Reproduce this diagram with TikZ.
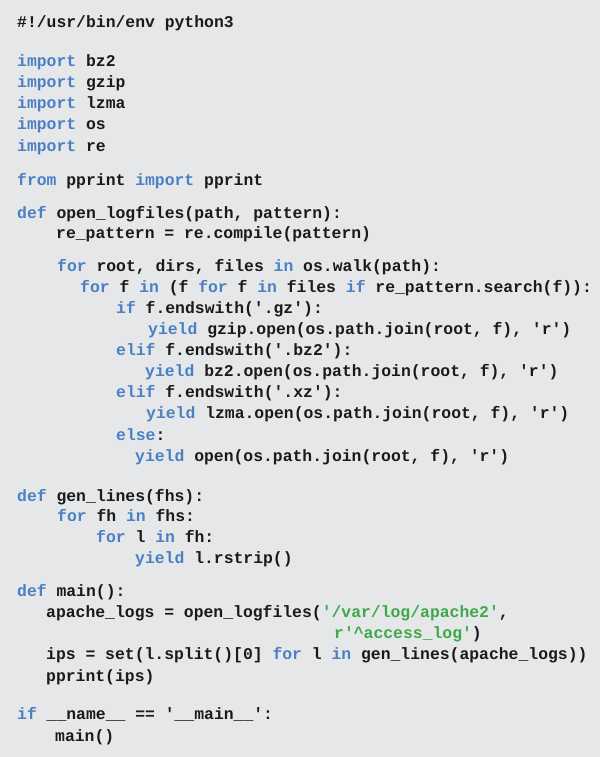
\documentclass[tikz,border=0pt]{standalone}
\usepackage{fontspec}
\newfontfamily\codefont{Liberation Mono}
\definecolor{bgc}{HTML}{E6E7E9}
\definecolor{kwc}{HTML}{4A80C4}
\definecolor{stc}{HTML}{3DAA4A}
\definecolor{txc}{HTML}{1A1A1A}
\newcommand\kw[1]{\textcolor{kwc}{#1}}
\newcommand\sg[1]{\textcolor{stc}{#1}}
\tikzset{codeline/.style={anchor=base west,inner sep=0pt,font=\codefont\bfseries\fontsize{16.4}{18}\selectfont,text=txc}}
\begin{document}
\begin{tikzpicture}[x=1pt,y=-1pt]
\fill[bgc] (0,0) rectangle (600,757);
\useasboundingbox (0,0) rectangle (600,757);
\node[codeline] (l1) at (17,28) {\#!/usr/bin/env python3};
\node[codeline] (l2) at (17,67) {\kw{import} bz2};
\node[codeline] (l3) at (17,88) {\kw{import} gzip};
\node[codeline] (l4) at (17,109) {\kw{import} lzma};
\node[codeline] (l5) at (17,130) {\kw{import} os};
\node[codeline] (l6) at (17,151) {\kw{import} re};
\node[codeline] (l7) at (17,185) {\kw{from} pprint \kw{import} pprint};
\node[codeline] (l8) at (17,218) {\kw{def} open\_logfiles(path, pattern):};
\node[codeline] (l9) at (56,238) {re\_pattern = re.compile(pattern)};
\node[codeline] (l10) at (57,271) {\kw{for} root, dirs, files \kw{in} os.walk(path):};
\node[codeline] (l11) at (80,292) {\kw{for} f \kw{in} (f \kw{for} f \kw{in} files \kw{if} re\_pattern.search(f)):};
\node[codeline] (l12) at (116,313) {\kw{if} f.endswith('.gz'):};
\node[codeline] (l13) at (148,334) {\kw{yield} gzip.open(os.path.join(root, f), 'r')};
\node[codeline] (l14) at (116,355) {\kw{elif} f.endswith('.bz2'):};
\node[codeline] (l15) at (145,376) {\kw{yield} bz2.open(os.path.join(root, f), 'r')};
\node[codeline] (l16) at (116,397) {\kw{elif} f.endswith('.xz'):};
\node[codeline] (l17) at (146,418) {\kw{yield} lzma.open(os.path.join(root, f), 'r')};
\node[codeline] (l18) at (116,440) {\kw{else}:};
\node[codeline] (l19) at (135,461) {\kw{yield} open(os.path.join(root, f), 'r')};
\node[codeline] (l20) at (17,501) {\kw{def} gen\_lines(fhs):};
\node[codeline] (l21) at (57,521) {\kw{for} fh \kw{in} fhs:};
\node[codeline] (l22) at (96,542) {\kw{for} l \kw{in} fh:};
\node[codeline] (l23) at (135,563) {\kw{yield} l.rstrip()};
\node[codeline] (l24) at (17,596) {\kw{def} main():};
\node[codeline] (l25) at (46,617) {apache\_logs = open\_logfiles(\sg{'/var/log/apache2'},};
\node[codeline] (l26) at (334,638) {\sg{r'\textasciicircum access\_log'})};
\node[codeline] (l27) at (46,659) {ips = set(l.split()[0] \kw{for} l \kw{in} gen\_lines(apache\_logs))};
\node[codeline] (l28) at (46,681) {pprint(ips)};
\node[codeline] (l29) at (17,719) {\kw{if} \_\_name\_\_ == '\_\_main\_\_':};
\node[codeline] (l30) at (55,741) {main()};
\end{tikzpicture}
\end{document}
